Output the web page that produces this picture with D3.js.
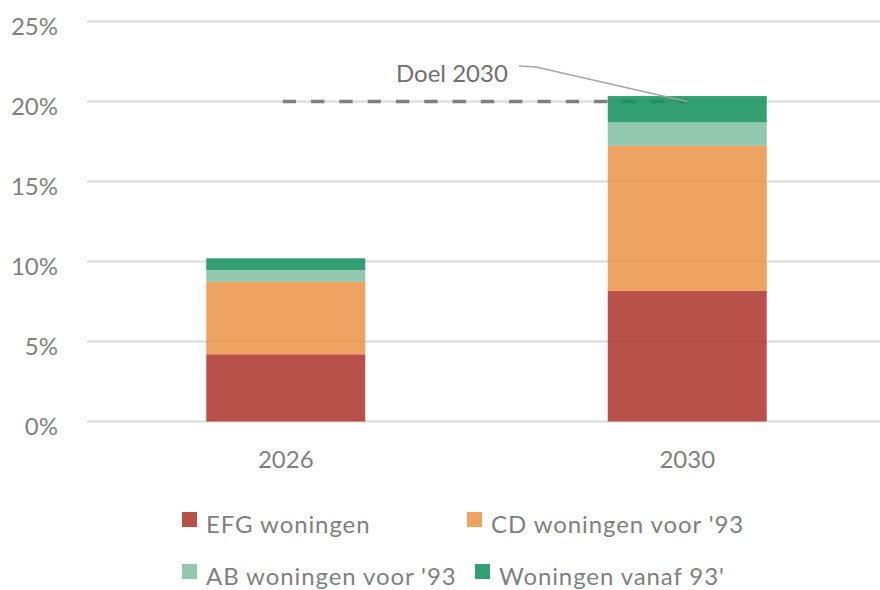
<!DOCTYPE html>
<html>
<head>
<meta charset="utf-8">
<script src="https://cdn.jsdelivr.net/npm/d3@7"></script>
<style>
    body { margin: 0; background: #fff; }
    text { font-family: Lato, "Open Sans", sans-serif; }
</style>
</head>
<body>
<svg id="chart"></svg>
<script>
let years = ["2026", "2030"];
let seriesNames = ["EFG woningen", "CD woningen voor '93", "AB woningen voor '93", "Woningen vanaf 93'"];
let efg = [4.20, 8.16];
let cd = [4.54, 9.08];
let ab = [0.73, 1.46];
let vanaf93 = [0.73, 1.64];
let doel = 20;
let doelLabel = "Doel 2030";
let yTicks = [0, 5, 10, 15, 20, 25];
let colors = ["#ad332c", "#eb9346", "#80bea2", "#0e8f5a"];

function createChart() {
    let w = 880, h = 590;

    let svg = d3.select("#chart")
        .attr("width", w)
        .attr("height", h);

    let x = d3.scaleBand()
        .domain(years)
        .range([85, 888])
        .paddingInner(0.604)
        .paddingOuter(0.302);

    let y = d3.scaleLinear()
        .domain([0, 25])
        .range([421.5, 21.5]);

    // gridlines
    svg.append("g")
        .selectAll("line")
        .data(yTicks)
        .enter()
        .append("line")
        .attr("x1", 87)
        .attr("x2", w)
        .attr("y1", d => y(d))
        .attr("y2", d => y(d))
        .attr("stroke", "#d9d9d9")
        .attr("stroke-width", 2);

    svg.append("g")
        .selectAll("text")
        .data(yTicks)
        .enter()
        .append("text")
        .attr("x", 58)
        .attr("y", d => y(d) + 13)
        .attr("text-anchor", "end")
        .attr("font-size", 24)
        .attr("fill", "#7f7f7f")
        .text(d => d + "%");

    // target line
    let xMid = d => x(d) + x.bandwidth() / 2;
    svg.append("line")
        .attr("x1", xMid(years[0]) - 3)
        .attr("x2", xMid(years[1]))
        .attr("y1", y(doel))
        .attr("y2", y(doel))
        .attr("stroke", "#7f7f7f")
        .attr("stroke-width", 3.5)
        .attr("stroke-dasharray", "13.3 15");

    // stacked bars
    let rows = years.map((yr, i) => ({
        year: yr, s0: efg[i], s1: cd[i], s2: ab[i], s3: vanaf93[i]
    }));
    let stacked = d3.stack().keys(["s0", "s1", "s2", "s3"])(rows);

    svg.append("g")
        .selectAll("g")
        .data(stacked)
        .enter()
        .append("g")
        .attr("fill", (d, i) => colors[i])
        .attr("fill-opacity", 0.85)
        .selectAll("rect")
        .data(d => d)
        .enter()
        .append("rect")
        .attr("x", d => x(d.data.year))
        .attr("width", x.bandwidth())
        .attr("y", d => y(d[1]))
        .attr("height", d => y(d[0]) - y(d[1]));

    // x axis labels
    svg.append("g")
        .selectAll("text")
        .data(years)
        .enter()
        .append("text")
        .attr("x", d => xMid(d))
        .attr("y", 468)
        .attr("text-anchor", "middle")
        .attr("font-size", 24)
        .attr("fill", "#7f7f7f")
        .text(d => d);

    // doel label with leader
    let tip = xMid(years[1]);
    svg.append("path")
        .attr("d", d3.line()([[519, 66], [536, 67], [tip, y(doel)]]))
        .attr("fill", "none")
        .attr("stroke", "#a6a6a6")
        .attr("stroke-width", 1.5);

    svg.append("text")
        .attr("x", 396)
        .attr("y", 82)
        .attr("font-size", 24)
        .attr("fill", "#6f6f6f")
        .text(doelLabel);

    // legend
    let legendPos = [[182, 512], [467, 512], [182, 564], [475, 564]];
    let legend = svg.append("g")
        .selectAll("g")
        .data(seriesNames)
        .enter()
        .append("g")
        .attr("transform", (d, i) => "translate(" + legendPos[i][0] + "," + legendPos[i][1] + ")");

    legend.append("rect")
        .attr("width", 15)
        .attr("height", 15)
        .attr("fill", (d, i) => colors[i])
        .attr("fill-opacity", 0.85);

    legend.append("text")
        .attr("x", 24)
        .attr("y", 21)
        .attr("font-size", 24)
        .attr("letter-spacing", 0.9)
        .attr("fill", "#7f7f7f")
        .text(d => d);
}

window.onload = function() {
    createChart();
}
</script>
</body>
</html>
